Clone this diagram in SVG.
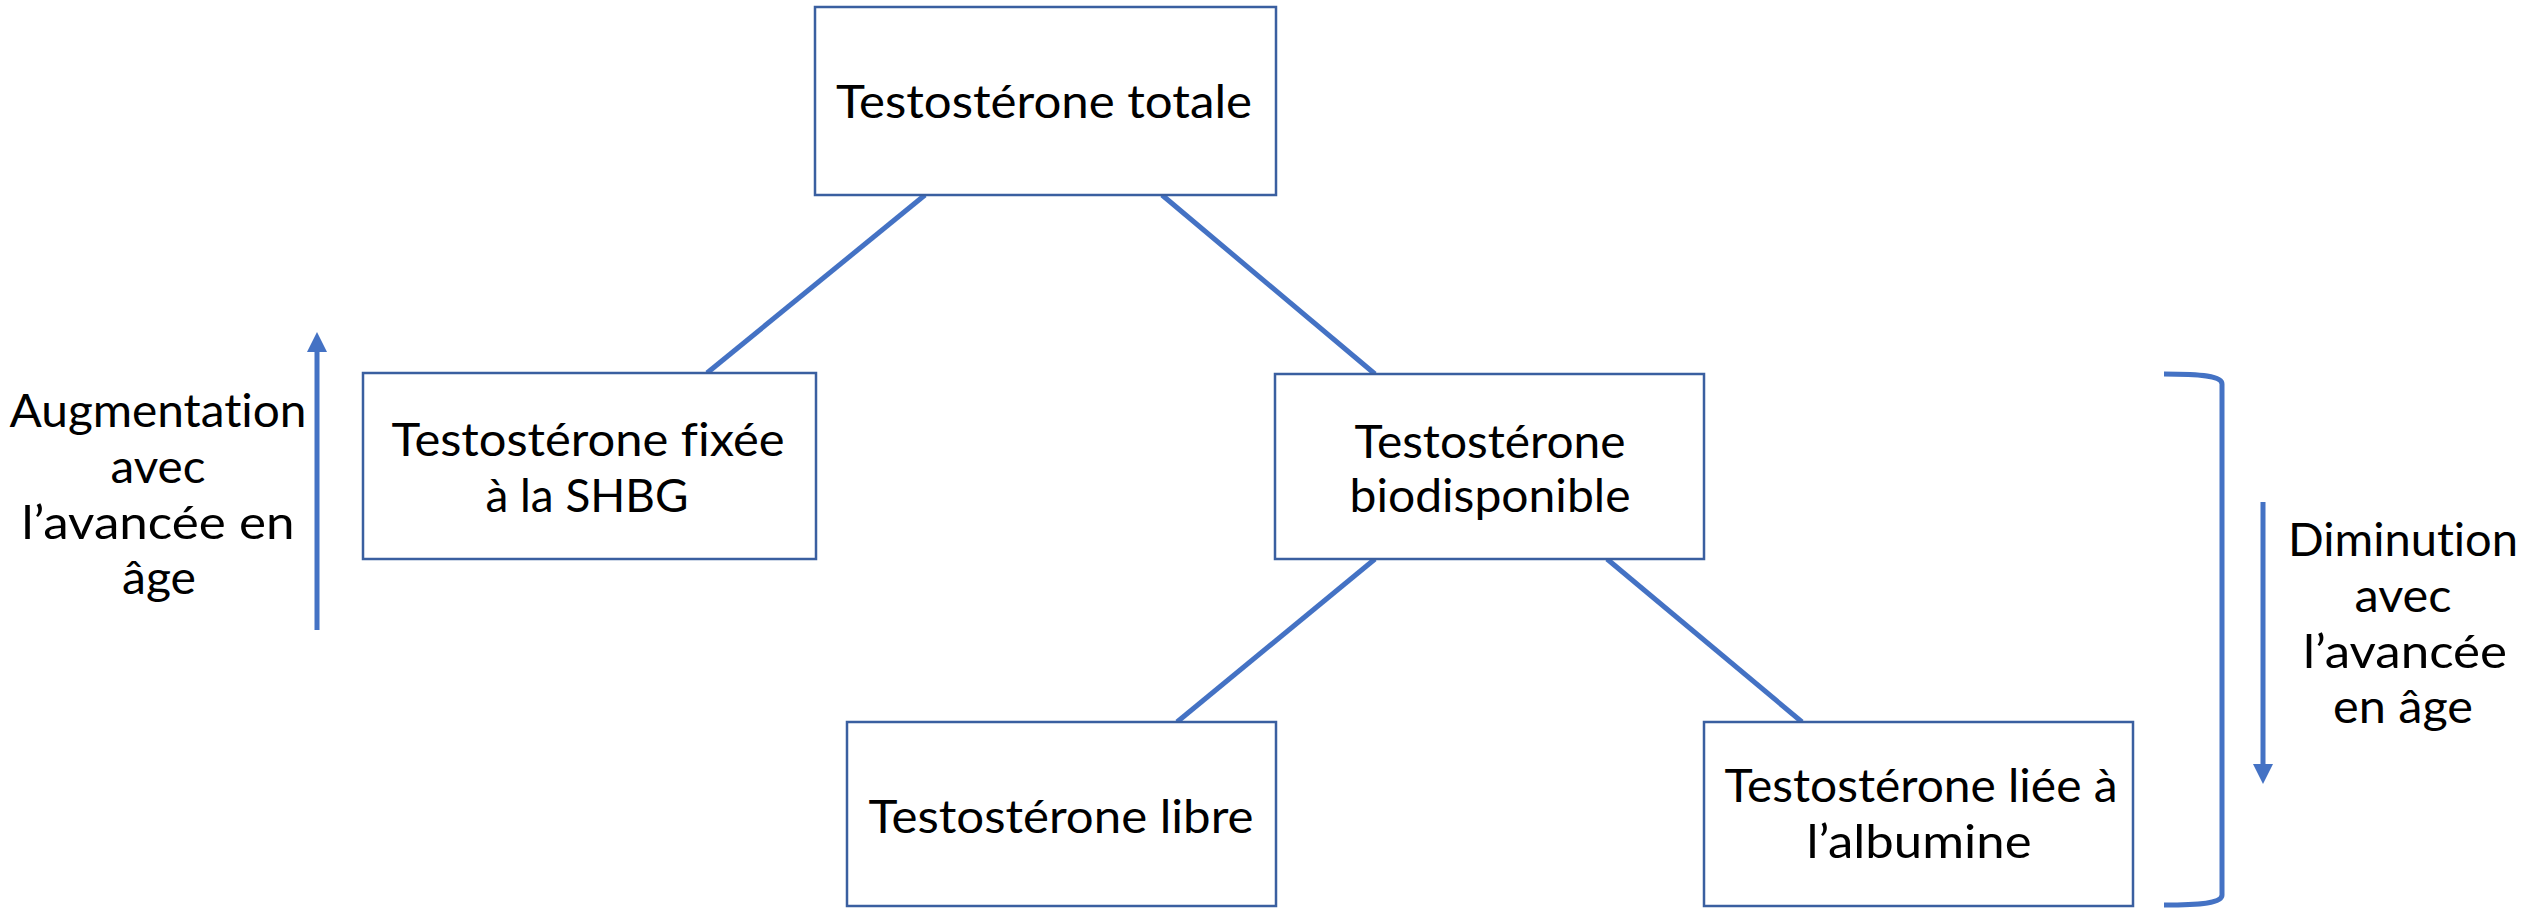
<svg xmlns="http://www.w3.org/2000/svg" width="2527" height="908" viewBox="0 0 2527 908">
<style>
.box{fill:#ffffff;stroke:#3A5FA0;stroke-width:2.5}
.con{stroke:#4472C4;stroke-width:5;fill:none}
.t{font-family:Lato,"Open Sans","DejaVu Sans",sans-serif;font-size:46px;fill:#000000;text-anchor:middle;font-variant-ligatures:none;font-feature-settings:"liga" 0,"dlig" 0}
</style>
<defs>
<marker id="ah" markerUnits="userSpaceOnUse" markerWidth="22" markerHeight="22" refX="0" refY="10" orient="auto">
<path d="M0,0 L20,10 L0,20 Z" fill="#4472C4"/>
</marker>
</defs>
<rect width="2527" height="908" fill="#ffffff"/>
<g id="connectors">
<line class="con" x1="925" y1="195" x2="707" y2="373"/>
<line class="con" x1="1162" y1="195" x2="1375" y2="374"/>
<line class="con" x1="1375" y1="559" x2="1177" y2="722"/>
<line class="con" x1="1607" y1="559" x2="1802" y2="722"/>
</g>
<g id="top">
<rect class="box" x="815" y="7" width="461" height="188"/>
<text class="t" x="1044" y="118" textLength="416" lengthAdjust="spacingAndGlyphs">Testostérone totale</text>
</g>
<g id="shbg">
<rect class="box" x="363" y="373" width="453" height="186"/>
<text class="t" x="588" y="456" textLength="393" lengthAdjust="spacingAndGlyphs">Testostérone fixée</text>
<text class="t" x="587" y="512" textLength="203" lengthAdjust="spacingAndGlyphs">à la SHBG</text>
</g>
<g id="bio">
<rect class="box" x="1275" y="374" width="429" height="185"/>
<text class="t" x="1490" y="458" textLength="271" lengthAdjust="spacingAndGlyphs">Testostérone</text>
<text class="t" x="1490" y="512" textLength="281" lengthAdjust="spacingAndGlyphs">biodisponible</text>
</g>
<g id="libre">
<rect class="box" x="847" y="722" width="429" height="184"/>
<text class="t" x="1061" y="833" textLength="385" lengthAdjust="spacingAndGlyphs">Testostérone libre</text>
</g>
<g id="albumine">
<rect class="box" x="1704" y="722" width="429" height="184"/>
<text class="t" x="1921" y="802" textLength="393" lengthAdjust="spacingAndGlyphs">Testostérone liée à</text>
<text class="t" x="1919" y="858" textLength="225" lengthAdjust="spacingAndGlyphs">l’albumine</text>
</g>
<g id="augmentation">
<line class="con" x1="317" y1="630" x2="317" y2="352" marker-end="url(#ah)"/>
<text class="t" x="158" y="427" textLength="297" lengthAdjust="spacingAndGlyphs">Augmentation</text>
<text class="t" x="158" y="483" textLength="95" lengthAdjust="spacingAndGlyphs">avec</text>
<text class="t" x="158" y="539" textLength="273" lengthAdjust="spacingAndGlyphs">l’avancée en</text>
<text class="t" x="159" y="594" textLength="74" lengthAdjust="spacingAndGlyphs">âge</text>
</g>
<g id="diminution">
<path class="con" d="M2164,374 C2202,374 2222,376 2222,384 V895 C2222,903 2202,905 2164,905"/>
<line class="con" x1="2263" y1="502" x2="2263" y2="764" marker-end="url(#ah)"/>
<text class="t" x="2403" y="556" textLength="230" lengthAdjust="spacingAndGlyphs">Diminution</text>
<text class="t" x="2403" y="612" textLength="97" lengthAdjust="spacingAndGlyphs">avec</text>
<text class="t" x="2405" y="668" textLength="204" lengthAdjust="spacingAndGlyphs">l’avancée</text>
<text class="t" x="2403" y="723" textLength="140" lengthAdjust="spacingAndGlyphs">en âge</text>
</g>
</svg>
